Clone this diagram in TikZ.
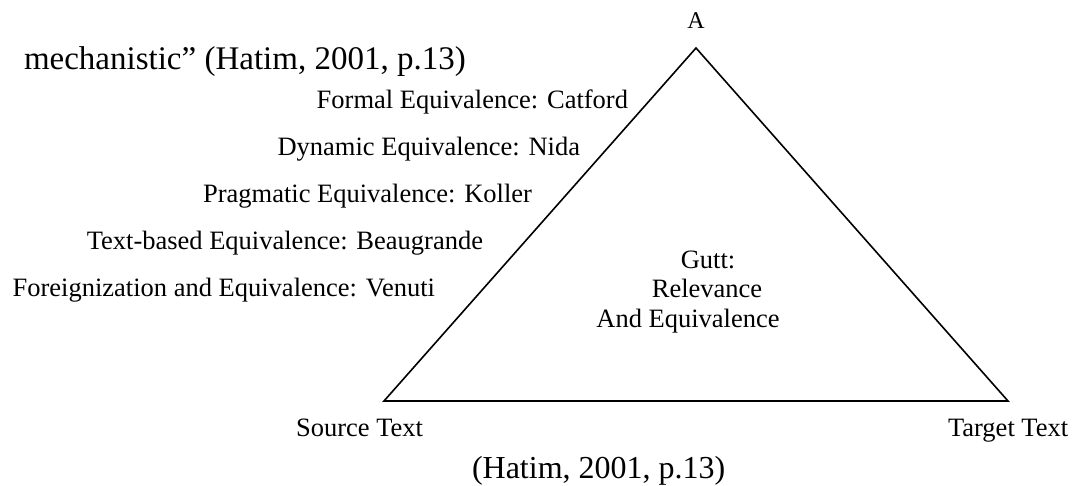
\documentclass[tikz,border=0pt]{standalone}
\usepackage{fontspec}
\setmainfont{Liberation Serif}
\begin{document}
\begin{tikzpicture}[x=1pt,y=-1pt,
  lbl/.style={inner sep=0pt, outer sep=0pt, font=\fontsize{26.5}{30}\selectfont},
  big/.style={inner sep=0pt, outer sep=0pt, font=\fontsize{33}{38}\selectfont},
  tri/.style={line width=1.6pt, line join=miter}]
\useasboundingbox (0,0) rectangle (1074,485);
% triangle vertices
\coordinate (apex) at (696,48);
\coordinate (lv) at (384,401);
\coordinate (rv) at (1008,401);
\draw[tri] (apex) -- (lv) -- (rv) -- cycle;
% top text
\node[big, anchor=base west] (mech) at (24,69) {mechanistic'' (Hatim, 2001, p.13)};
\node[lbl, anchor=base, font=\fontsize{24}{28}\selectfont] (A) at (696,28) {A};
% left labels
\node[lbl, anchor=base east] (formal) at (628,108) {Formal Equivalence: Catford};
\node[lbl, anchor=base east] (dynamic) at (580,155) {Dynamic Equivalence: Nida};
\node[lbl, anchor=base east] (prag) at (532,202) {Pragmatic Equivalence: Koller};
\node[lbl, anchor=base east] (textb) at (483,249) {Text-based Equivalence: Beaugrande};
\node[lbl, anchor=base east] (foreign) at (435,296) {Foreignization and Equivalence: Venuti};
% centre text
\node[lbl, anchor=base] (gutt1) at (708,268) {Gutt:};
\node[lbl, anchor=base] (gutt2) at (707,297) {Relevance};
\node[lbl, anchor=base] (gutt3) at (688,327) {And Equivalence};
% bottom labels
\node[lbl, anchor=base east] (src) at (423,436) {Source Text};
\node[lbl, anchor=base west] (tgt) at (948,436) {Target Text};
\node[big, anchor=base west, font=\fontsize{32}{36}\selectfont] (cite) at (472,478) {(Hatim, 2001, p.13)};
\end{tikzpicture}
\end{document}
